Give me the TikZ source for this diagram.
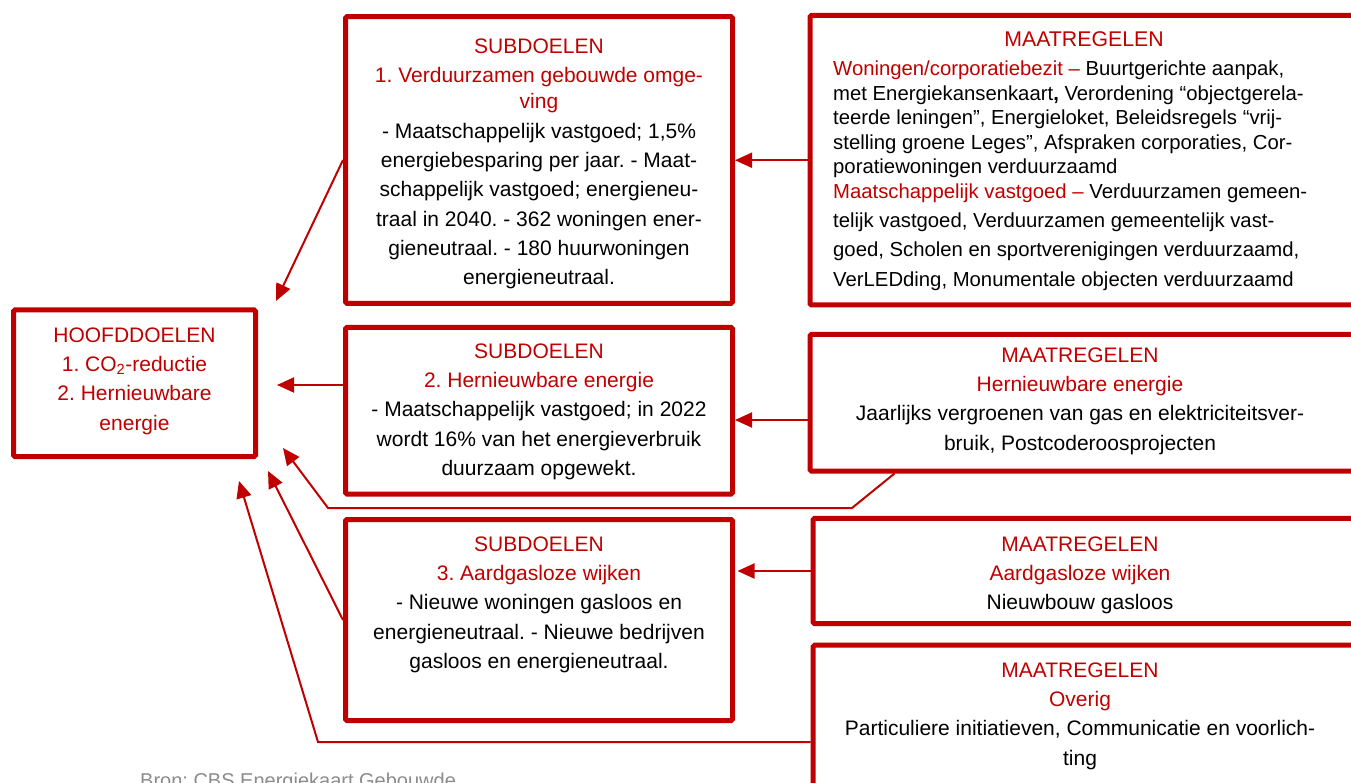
\documentclass[tikz,border=0pt]{standalone}
\usepackage{fontspec}
\setmainfont{Liberation Sans}
\usetikzlibrary{arrows.meta,calc}
\definecolor{dred}{HTML}{C00000}
\definecolor{srcgrey}{HTML}{8C8C8C}
\tikzset{
  box/.style={draw=dred, line width=5pt, rounded corners=1.5pt, rectangle, inner sep=0pt, fill=white},
  conn/.style={draw=dred, line width=2pt, -{Triangle[length=17pt,width=15pt]}},
  ctext/.style={align=center, inner sep=0pt, anchor=north, font=\fontsize{21}{29.3}\selectfont},
  mtitle/.style={align=center, inner sep=0pt, anchor=north, font=\fontsize{21.3}{29.3}\selectfont},
  mbody/.style={align=left, inner sep=0pt, anchor=north west, font=\fontsize{20.3}{24.6}\selectfont},
  srctext/.style={inner sep=0pt, anchor=north west, text=srcgrey, font=\fontsize{20}{24}\selectfont},
}
\newcommand{\rd}[1]{\textcolor{dred}{#1}}
\frenchspacing
\begin{document}
\begin{tikzpicture}[x=1pt,y=-1pt]
\useasboundingbox (0,0) rectangle (1351,783);
\clip (0,0) rectangle (1351,783);
\fill[white] (0,0) rectangle (1351,783);

% boxes (centre, size)
\node[box, minimum width=242, minimum height=146.5] (h) at (134.5,383.25) {};
\node[box, minimum width=387, minimum height=286.6] (s1) at (539,160) {};
\node[box, minimum width=387, minimum height=166.5] (s2) at (539,410.75) {};
\node[box, minimum width=387, minimum height=201] (s3) at (539,620) {};
\node[box, minimum width=580, minimum height=289.5] (m1) at (1100,160.25) {};
\node[box, minimum width=580, minimum height=136.5] (m2) at (1100,402.75) {};
\node[box, minimum width=577, minimum height=105.4] (m3) at (1101.6,571) {};
\node[box, minimum width=577, minimum height=170] (m4) at (1101.6,730.2) {};

% texts
\node[ctext, text=dred] (ht) at (134.5,327.5) {HOOFDDOELEN\\1. CO\textsubscript{2}-reductie\\2. Hernieuwbare\\energie};

\node[ctext] (s1t) at (539,38.5) {\rd{SUBDOELEN}\\\rd{1. Verduurzamen gebouwde omge-}\\[-3pt]\rd{ving}\\- Maatschappelijk vastgoed; 1,5\%\\energiebesparing per jaar. - Maat-\\schappelijk vastgoed; energieneu-\\traal in 2040. - 362 woningen ener-\\gieneutraal. - 180 huurwoningen\\energieneutraal.};

\node[ctext] (s2t) at (539,343.5) {\rd{SUBDOELEN}\\\rd{2. Hernieuwbare energie}\\- Maatschappelijk vastgoed; in 2022\\wordt 16\% van het energieverbruik\\duurzaam opgewekt.};

\node[ctext] (s3t) at (539,536.5) {\rd{SUBDOELEN}\\\rd{3. Aardgasloze wijken}\\- Nieuwe woningen gasloos en\\energieneutraal. - Nieuwe bedrijven\\gasloos en energieneutraal.};

\node[mtitle, text=dred] (m1h) at (1084,31.5) {MAATREGELEN};
\node[mbody] (m1t) at (833,60.5) {\rd{Woningen/corporatiebezit –} Buurtgerichte aanpak,\\met Energiekansenkaart\textbf{,} Verordening “objectgerela-\\teerde leningen”, Energieloket, Beleidsregels “vrij-\\stelling groene Leges”, Afspraken corporaties, Cor-\\poratiewoningen verduurzaamd\\\rd{Maatschappelijk vastgoed –} Verduurzamen gemeen-\\[4.6pt]telijk vastgoed, Verduurzamen gemeentelijk vast-\\[4.6pt]goed, Scholen en sportverenigingen verduurzaamd,\\[4.6pt]VerLEDding, Monumentale objecten verduurzaamd};

\node[ctext] (m2t) at (1080,347.5) {\rd{MAATREGELEN}\\\rd{Hernieuwbare energie}\\Jaarlijks vergroenen van gas en elektriciteitsver-\\bruik, Postcoderoosprojecten};

\node[ctext] (m3t) at (1080,536.5) {\rd{MAATREGELEN}\\\rd{Aardgasloze wijken}\\Nieuwbouw gasloos};

\node[ctext] (m4t) at (1080,662.5) {\rd{MAATREGELEN}\\\rd{Overig}\\Particuliere initiatieven, Communicatie en voorlich-\\ting};

\node[srctext] (src) at (140,773) {Bron: CBS Energiekaart Gebouwde};

% connector points
\coordinate (t1) at (276,301);
\coordinate (t2) at (277,385);
\coordinate (t3) at (283,448);
\coordinate (t4) at (268,471);
\coordinate (t5) at (239,481);
\coordinate (b3a) at (852,508);
\coordinate (b3b) at (328,508);
\coordinate (b5) at (318,742);
\coordinate (y2) at (0,420);

% connectors to HOOFDDOELEN
\draw[conn] (s1.west) -- (t1);
\draw[conn] (s2.west |- t2) -- (t2);
\draw[conn] ($(m2.south west)+(87,0)$) -- (b3a) -- (b3b) -- (t3);
\draw[conn] (s3.west) -- (t4);
\draw[conn] (m4.west |- b5) -- (b5) -- (t5);

% connectors MAATREGELEN -> SUBDOELEN
\draw[conn] (m1.west) -- (s1.east |- m1.west);
\draw[conn] (m2.west |- y2) -- (s2.east |- y2);
\draw[conn, shorten >=2.5pt] (m3.west) -- (s3.east |- m3.west);
\end{tikzpicture}
\end{document}
